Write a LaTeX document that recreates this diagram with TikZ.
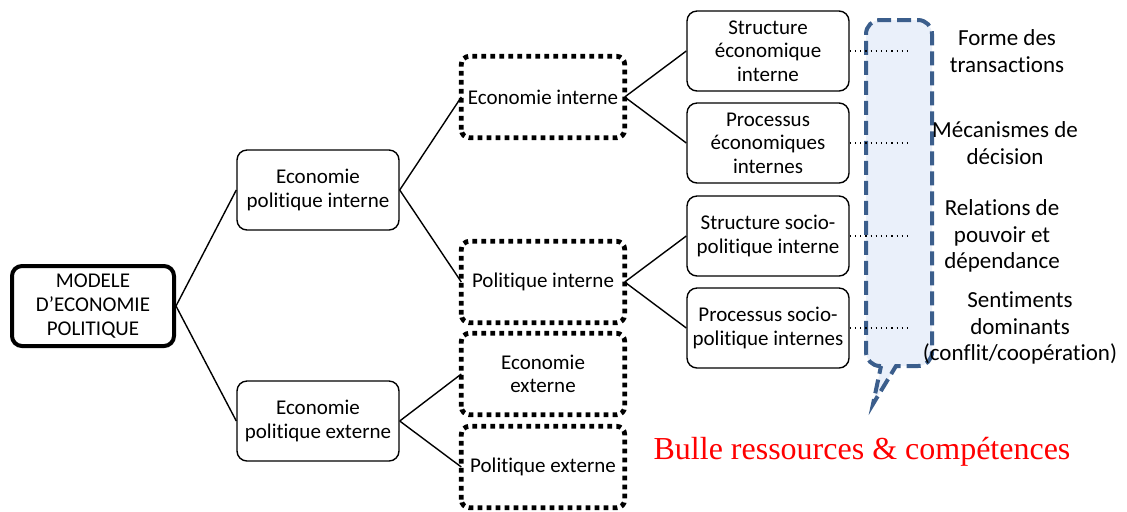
\documentclass[tikz,border=0pt]{standalone}
\usepackage{fontspec}
\setmainfont{Carlito}[Ligatures=NoCommon]
\newfontfamily\serifred{Liberation Serif}
\usepackage{tikz}
\usetikzlibrary{positioning,calc}
\definecolor{bubbleblue}{RGB}{59,94,140}
\definecolor{bubblefill}{RGB}{234,240,250}
\definecolor{redtext}{RGB}{255,0,0}

\tikzset{
  box/.style={draw, rounded corners=5pt, line width=0.7pt, minimum width=81pt, minimum height=40pt,
    align=center, inner sep=1pt, font=\fontsize{10.5}{11.8}\selectfont},
  mainbox/.style={box, line width=2pt},
  dotbox/.style={box, draw=none},
  dotframe/.style={line width=2.4pt, dash pattern=on 2.4pt off 2.1pt, rounded corners=4pt},
  link/.style={line width=0.7pt},
  leader/.style={line width=0.6pt, dotted},
  factor/.style={align=center, font=\fontsize{11.5}{13.3}\selectfont}
}

\begin{document}
\begin{tikzpicture}[x=0.5pt, y=-0.5pt]
\useasboundingbox (0,0) rectangle (1127,511);
% bulle ressources
\draw[bubbleblue, fill=bubblefill, line width=2pt, dash pattern=on 7pt off 3pt]
  (881,366) [rounded corners=7pt] -- (866,366) -- (866,20) -- (932,20) -- (932,366) [sharp corners] -- (896,366) -- (873,404) -- cycle;
% arbre
\node[mainbox] (modele) at (93,306) {MODELE\\D’ECONOMIE\\POLITIQUE};
\node[box] (epi) at (318,190) {Economie\\politique interne};
\node[box] (epe) at (318,421) {Economie\\politique externe};
\node[dotbox] (ei) at (543,97) {Economie interne};
\node[dotbox] (pi) at (543,282) {Politique interne};
\node[dotbox] (ee) at (543,374) {Economie\\externe};
\node[dotbox] (pe) at (543,467) {Politique externe};
\foreach \n in {ei,pi,ee,pe}
  \draw[dotframe] (\n.south west) rectangle (\n.north east);
\node[box] (sei) at (768,51) {Structure\\économique\\interne};
\node[box] (pei) at (768,143) {Processus\\économiques\\internes};
\node[box] (sspi) at (768,236) {Structure socio-\\politique interne};
\node[box] (pspi) at (768,328) {Processus socio-\\politique internes};
\draw[link] (modele.east) -- (epi.west);
\draw[link] (modele.east) -- (epe.west);
\draw[link] (epi.east) -- (ei.west);
\draw[link] (epi.east) -- (pi.west);
\draw[link] (epe.east) -- (ee.west);
\draw[link] (epe.east) -- (pe.west);
\draw[link] (ei.east) -- (sei.west);
\draw[link] (ei.east) -- (pei.west);
\draw[link] (pi.east) -- (sspi.west);
\draw[link] (pi.east) -- (pspi.west);
% facteurs
\coordinate (f1) at (912,51);
\coordinate (f2) at (912,143);
\coordinate (f3) at (912,236);
\coordinate (f4) at (912,328);
\draw[leader] (sei.east) -- (f1);
\draw[leader] (pei.east) -- (f2);
\draw[leader] (sspi.east) -- (f3);
\draw[leader] (pspi.east) -- (f4);
\node[factor] (forme) at (1007,51) {Forme des\\transactions};
\node[factor] (meca) at (1005,143) {Mécanismes de\\décision};
\node[factor] (rel) at (1002,236) {Relations de\\pouvoir et\\dépendance};
\node[factor] (senti) at (1020,328) {Sentiments\\dominants\\(conflit/coopération)};
\node[redtext, font=\serifred\fontsize{16}{19}\selectfont] (bulle) at (862,452) {Bulle ressources \& compétences};
\end{tikzpicture}
\end{document}
